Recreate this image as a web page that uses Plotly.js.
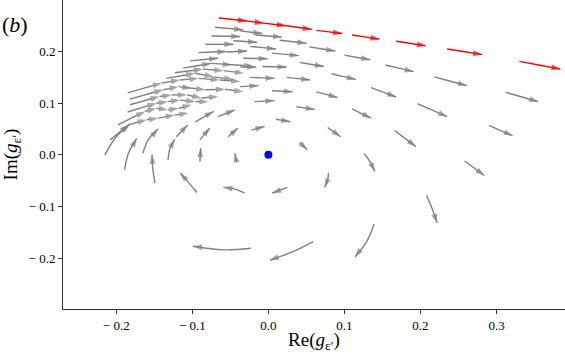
<!DOCTYPE html>
<html>
<head>
<meta charset="utf-8">
<script src="https://cdn.plot.ly/plotly-3.0.1.min.js"></script>
<style>
  html, body { margin: 0; padding: 0; background: #fff; }
  #chart { width: 565px; height: 353px; }
</style>
</head>
<body>
<div id="chart"></div>
<script>
// axis setup
const X_RANGE = [-0.27, 0.39];
const Y_RANGE = [-0.2985, 0.2998];
const xTickVals = [-0.2, -0.1, 0.0, 0.1, 0.2, 0.3];
const xTickText = ['\u2212 0.2', '\u2212 0.1', '0.0', '0.1', '0.2', '0.3'];
const yTickVals = [-0.2, -0.1, 0.0, 0.1, 0.2];
const yTickText = ['\u2212 0.2', '\u2212 0.1', '0.0', '0.1', '0.2'];

// fixed point
const fixedX = [0.0];
const fixedY = [0.0];

// red flow line (tail -> head)
const redTailX = [-0.065, -0.028, -0.006, 0.023, 0.063, 0.110, 0.168, 0.235, 0.330];
const redTailY = [0.265, 0.259, 0.255, 0.250, 0.241, 0.232, 0.220, 0.205, 0.181];
const redHeadX = [-0.028, -0.006, 0.023, 0.057, 0.097, 0.146, 0.207, 0.281, 0.384];
const redHeadY = [0.259, 0.255, 0.250, 0.243, 0.235, 0.224, 0.211, 0.194, 0.166];

// gray arrows: tail, optional bend point (null = straight), head
const grayTailX = [-0.070, -0.037, -0.017, 0.015, 0.054, 0.100, 0.154, 0.218, 0.312,
                   -0.075, -0.046, -0.024, 0.005, 0.041, 0.083, 0.135, 0.196, 0.290,
                   -0.083, -0.055, -0.033, -0.008, 0.024, 0.063, 0.110, 0.166, 0.258,
                   -0.092, -0.037, -0.024, 0.005, 0.037, 0.078, 0.126, 0.208,
                   -0.103, -0.037, -0.018, 0.010, 0.041, 0.079, 0.139,
                   -0.112, -0.022, 0.025, 0.059, -0.031, -0.023,
                   -0.042, -0.053, -0.090, -0.094, -0.149, -0.090, -0.096, -0.066,
                   -0.132, -0.121, -0.165, -0.189, -0.215];
const grayTailY = [0.247, 0.240, 0.232, 0.222, 0.209, 0.193, 0.174, 0.151, 0.121,
                   0.230, 0.221, 0.210, 0.197, 0.179, 0.157, 0.130, 0.099, 0.057,
                   0.214, 0.199, 0.187, 0.171, 0.150, 0.122, 0.089, 0.047, -0.012,
                   0.198, 0.170, 0.150, 0.124, 0.093, 0.053, 0.002, -0.079,
                   0.182, 0.132, 0.103, 0.069, 0.024, -0.035, -0.134,
                   0.168, 0.048, -0.063, -0.168, -0.074, -0.181,
                   -0.013, 0.035, -0.013, -0.073, -0.055, 0.029, 0.064, 0.074,
                   -0.010, 0.035, 0.003, -0.029, 0.000];
const grayBendX = [null, null, null, null, null, null, null, null, null,
                   null, null, null, null, null, null, null, null, null,
                   null, null, null, null, null, null, null, null, null,
                   null, null, null, null, null, null, 0.134, 0.215,
                   null, null, null, null, null, 0.078, 0.130,
                   null, null, null, 0.033, -0.045, -0.059,
                   null, null, null, -0.107, -0.152, null, null, null,
                   -0.129, null, -0.158, -0.184, -0.200];
const grayBendY = [null, null, null, null, null, null, null, null, null,
                   null, null, null, null, null, null, null, null, null,
                   null, null, null, null, null, null, null, null, null,
                   null, null, null, null, null, null, -0.014, -0.103,
                   null, null, null, null, null, -0.048, -0.166,
                   null, null, null, -0.187, -0.066, -0.184,
                   null, null, null, -0.050, -0.027, null, null, null,
                   0.014, null, 0.029, 0.003, 0.035];
const grayHeadX = [-0.033, -0.008, 0.018, 0.050, 0.088, 0.134, 0.191, 0.261, 0.355,
                   -0.037, -0.015, 0.010, 0.040, 0.073, 0.115, 0.168, 0.235, 0.321,
                   -0.046, -0.028, -0.001, 0.024, 0.055, 0.091, 0.135, 0.194, 0.284,
                   -0.055, -0.016, 0.008, 0.032, 0.061, 0.095, 0.140, 0.222,
                   -0.066, -0.013, 0.008, 0.029, 0.051, 0.074, 0.114,
                   -0.075, -0.005, 0.005, 0.002, -0.059, -0.099,
                   -0.044, -0.040, -0.089, -0.116, -0.153, -0.077, -0.072, -0.044,
                   -0.123, -0.106, -0.145, -0.173, -0.182];
const grayHeadY = [0.242, 0.235, 0.228, 0.216, 0.201, 0.184, 0.161, 0.134, 0.103,
                   0.229, 0.218, 0.205, 0.192, 0.171, 0.146, 0.112, 0.074, 0.037,
                   0.214, 0.201, 0.186, 0.170, 0.145, 0.111, 0.071, 0.016, -0.040,
                   0.200, 0.170, 0.148, 0.122, 0.088, 0.035, -0.032, -0.132,
                   0.187, 0.134, 0.105, 0.064, 0.010, -0.063, -0.198,
                   0.177, 0.055, -0.074, -0.204, -0.063, -0.177,
                   0.003, 0.052, 0.013, -0.035, 0.000, 0.052, 0.084, 0.087,
                   0.030, 0.058, 0.050, 0.032, 0.060];

// crowded streaks in the upper left: consecutive points, chains split by null
const streakX = [-0.075, -0.048, -0.020, null,
                 -0.123, -0.086, -0.059, -0.032, null,
                 -0.134, -0.096, -0.072, -0.046, null,
                 -0.185, -0.140, -0.116, -0.092, -0.064, -0.037, null,
                 -0.182, -0.138, -0.118, -0.101, -0.083, -0.057, -0.033, null,
                 -0.182, -0.143, -0.127, -0.107, -0.088, -0.066, null,
                 -0.185, -0.147, -0.132, -0.116, -0.096, -0.079, null,
                 -0.198, -0.162, -0.147, -0.132, -0.118, -0.101, null,
                 -0.208, -0.184, -0.160, -0.145, -0.123, -0.105];
const streakY = [0.177, 0.174, 0.172, null,
                 0.159, 0.166, 0.163, 0.158, null,
                 0.148, 0.158, 0.151, 0.146, null,
                 0.120, 0.139, 0.145, 0.148, 0.145, 0.142, null,
                 0.108, 0.126, 0.132, 0.129, 0.126, 0.127, 0.122, null,
                 0.097, 0.113, 0.116, 0.116, 0.110, 0.113, null,
                 0.083, 0.100, 0.103, 0.106, 0.103, 0.103, null,
                 0.058, 0.084, 0.090, 0.087, 0.090, 0.097, null,
                 0.029, 0.058, 0.068, 0.071, 0.077, 0.081];

const GRAY = '#808080';
const RED = '#ff0000';
const HEAD = 9.5;

function arrowTrace(tx, ty, bx, by, hx, hy, color) {
    const x = [], y = [], s = [];
    for (let i = 0; i < tx.length; i++) {
        const mx = (bx && bx[i] !== null) ? bx[i] : (tx[i] + hx[i]) / 2;
        const my = (by && by[i] !== null) ? by[i] : (ty[i] + hy[i]) / 2;
        x.push(tx[i], mx, hx[i], null);
        y.push(ty[i], my, hy[i], null);
        s.push(0, 0, HEAD, 0);
    }
    return {
        type: 'scatter', mode: 'lines+markers', x: x, y: y,
        line: { color: color, width: 1.4, shape: 'spline' },
        marker: { symbol: 'arrow', angleref: 'previous', size: s, color: color, line: { width: 0 } },
        hoverinfo: 'skip', showlegend: false, connectgaps: false
    };
}

function streakTrace(xs, ys, color) {
    const s = xs.map((v, i) => (v === null || i === 0 || xs[i - 1] === null) ? 0 : HEAD);
    return {
        type: 'scatter', mode: 'lines+markers', x: xs, y: ys,
        line: { color: color, width: 1.4 },
        marker: { symbol: 'arrow', angleref: 'previous', size: s, color: color, line: { width: 0 } },
        hoverinfo: 'skip', showlegend: false, connectgaps: false
    };
}

const traces = [
    arrowTrace(grayTailX, grayTailY, grayBendX, grayBendY, grayHeadX, grayHeadY, GRAY),
    streakTrace(streakX, streakY, GRAY),
    arrowTrace(redTailX, redTailY, null, null, redHeadX, redHeadY, RED),
    {
        type: 'scatter', mode: 'markers', x: fixedX, y: fixedY,
        marker: { color: '#0000ff', size: 8 },
        hoverinfo: 'skip', showlegend: false
    }
];

const tickFont = { family: 'Liberation Serif, serif', size: 13, color: '#000' };

const layout = {
    width: 565, height: 353,
    margin: { l: 63, r: 0, t: 0, b: 44 },
    paper_bgcolor: '#fff', plot_bgcolor: '#fff',
    font: { family: 'Liberation Serif, serif', color: '#000' },
    xaxis: {
        range: X_RANGE, showgrid: false, zeroline: false,
        showline: true, linecolor: '#333', linewidth: 1,
        ticks: 'outside', ticklen: 4, tickcolor: '#333',
        tickvals: xTickVals, ticktext: xTickText, tickfont: tickFont,
        title: { text: 'Re(<i>g</i><sub>\u03b5\u2032</sub>)', font: { family: 'Liberation Serif, serif', size: 19 }, standoff: 4 }
    },
    yaxis: {
        range: Y_RANGE, showgrid: false, zeroline: false,
        showline: true, linecolor: '#333', linewidth: 1,
        ticks: 'outside', ticklen: 4, tickcolor: '#333',
        tickvals: yTickVals, ticktext: yTickText, tickfont: tickFont,
        title: { text: 'Im(<i>g</i><sub>\u03b5\u2032</sub>)', font: { family: 'Liberation Serif, serif', size: 19 }, standoff: 6 }
    },
    annotations: [{
        xref: 'paper', yref: 'paper', x: -0.095, y: 0.922,
        xanchor: 'center', yanchor: 'middle', showarrow: false,
        text: '(<i>b</i>)', font: { family: 'Liberation Serif, serif', size: 22, color: '#000' }
    }]
};

Plotly.newPlot('chart', traces, layout, { displayModeBar: false, staticPlot: true });
</script>
</body>
</html>
